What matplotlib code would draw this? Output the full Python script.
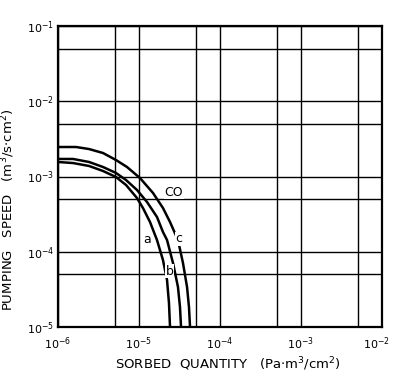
import numpy as np
import matplotlib
matplotlib.use("Agg")
import matplotlib.pyplot as plt
import matplotlib.transforms as mtransforms

# log10 values (x = sorbed quantity, y = pumping speed)
a_x = [-6.0, -5.815, -5.617, -5.444, -5.284, -5.160, -5.025, -4.951, -4.864, -4.778, -4.704, -4.654, -4.630, -4.617, -4.617]
a_y = [-2.807, -2.821, -2.860, -2.927, -3.007, -3.113, -3.286, -3.419, -3.605, -3.844, -4.110, -4.375, -4.681, -5.0, -5.2]
b_x = [-6.0, -5.815, -5.617, -5.444, -5.284, -5.160, -5.025, -4.901, -4.778, -4.704, -4.654, -4.580, -4.519, -4.494, -4.481, -4.481]
b_y = [-2.767, -2.767, -2.807, -2.874, -2.953, -3.047, -3.179, -3.339, -3.538, -3.738, -3.844, -4.150, -4.468, -4.734, -5.0, -5.2]
c_x = [-6.0, -5.778, -5.617, -5.444, -5.284, -5.148, -4.988, -4.827, -4.704, -4.617, -4.519, -4.457, -4.407, -4.383, -4.370, -4.370]
c_y = [-2.608, -2.608, -2.635, -2.688, -2.781, -2.874, -3.020, -3.219, -3.419, -3.605, -3.844, -4.150, -4.468, -4.734, -5.0, -5.2]

x_decades = [-6, -5, -4, -3, -2]
y_decades = [-5, -4, -3, -2, -1]

labels = {"a": (-4.90, -3.84), "b": (-4.62, -4.26), "c": (-4.51, -3.83), "CO": (-4.57, -3.21)}

fig = plt.figure(figsize=(3.94, 3.77), dpi=100)
ax = fig.add_axes([58/394, 50/377, 324/394, 301/377])
ax.set_xscale("log")
ax.set_yscale("log")
ax.set_xlim(1e-6, 1e-2)
ax.set_ylim(1e-5, 1e-1)

for xs, ys in [(a_x, a_y), (b_x, b_y), (c_x, c_y)]:
    ax.plot(10.0 ** np.array(xs), 10.0 ** np.array(ys), color="black", lw=1.8,
            solid_joinstyle="round")

for name, (lx, ly) in labels.items():
    ax.text(10 ** lx, 10 ** ly, name, fontsize=9, ha="center", va="center", color="black",
            bbox=dict(fc="white", ec="none", pad=0.3))

ax.set_xticks([10.0 ** d for d in x_decades])
ax.set_xticklabels([r"$10^{%d}$" % d for d in x_decades])
ax.set_yticks([10.0 ** d for d in y_decades])
ax.set_yticklabels([r"$10^{%d}$" % d for d in y_decades])
ax.set_xticks([5 * 10.0 ** d for d in x_decades[:-1]], minor=True)
ax.set_yticks([5 * 10.0 ** d for d in y_decades[:-1]], minor=True)
ax.set_xticklabels([], minor=True)
ax.set_yticklabels([], minor=True)
ax.tick_params(which="both", length=0, labelsize=8)
ax.tick_params(axis="x", pad=6)
ax.tick_params(axis="y", pad=3)
ax.grid(True, which="both", color="black", lw=1.0)
ax.set_axisbelow(True)
for s in ax.spines.values():
    s.set_linewidth(1.6)

# keep the last x label inside the figure
last = ax.get_xticklabels()[-1]
last.set_transform(last.get_transform() + mtransforms.ScaledTranslation(-4/72, 0, fig.dpi_scale_trans))

ax.set_xlabel(r"SORBED  QUANTITY   (Pa$\cdot$m$^3$/cm$^2$)", fontsize=9.5)
ax.set_ylabel(r"PUMPING   SPEED   (m$^3$/s$\cdot$cm$^2$)", fontsize=9.5)
ax.xaxis.set_label_coords(0.525, -0.095)
ax.yaxis.set_label_coords(-0.125, 0.39)

fig.savefig("out.png", dpi=100)
